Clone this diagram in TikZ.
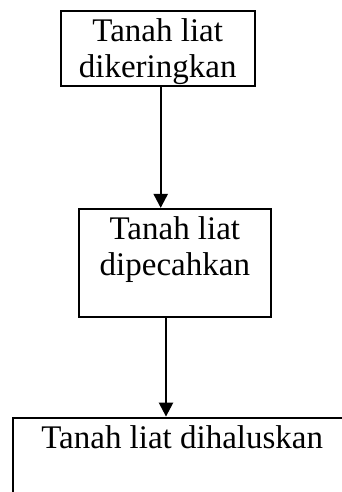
\documentclass[tikz,border=0pt]{standalone}
\usepackage{fontspec}
\setmainfont{Liberation Serif}
\usetikzlibrary{arrows.meta}

\tikzset{
  stepbox/.style={draw=black, line width=2.2pt, rectangle, inner sep=0pt},
  linetext/.style={anchor=base, inner sep=0pt, font=\fontsize{33}{36}\selectfont},
  flow/.style={draw=black, line width=2.4pt, -{Triangle[width=14pt,length=14pt]}}
}

\begin{document}
\begin{tikzpicture}[x=1pt, y=-1pt]
  \useasboundingbox (0,0) rectangle (342,492);
  \clip (0,0) rectangle (342,492);

  % process boxes
  \node[stepbox, minimum width=194pt, minimum height=75pt] (b1) at (157.7,48.5) {};
  \node[stepbox, minimum width=191.7pt, minimum height=107.7pt] (b2) at (174.85,262.85) {};
  \node[stepbox, minimum width=339pt, minimum height=110pt] (b3) at (182.2,472.7) {};

  % box labels, one node per printed line
  \node[linetext] (t1a) at (157.7,42) {Tanah liat};
  \node[linetext] (t1b) at (157.7,77.3) {dikeringkan};
  \node[linetext] (t2a) at (174.85,239.3) {Tanah liat};
  \node[linetext] (t2b) at (174.85,275) {dipecahkan};
  \node[linetext] (t3) at (182.2,448) {Tanah liat dihaluskan};

  % arrow columns
  \coordinate (c1) at (160.7,0);
  \coordinate (c2) at (166,0);

  % connectors
  \draw[flow] (c1 |- b1.south) -- (c1 |- b2.north);
  \draw[flow] (c2 |- b2.south) -- (c2 |- b3.north);
\end{tikzpicture}
\end{document}
